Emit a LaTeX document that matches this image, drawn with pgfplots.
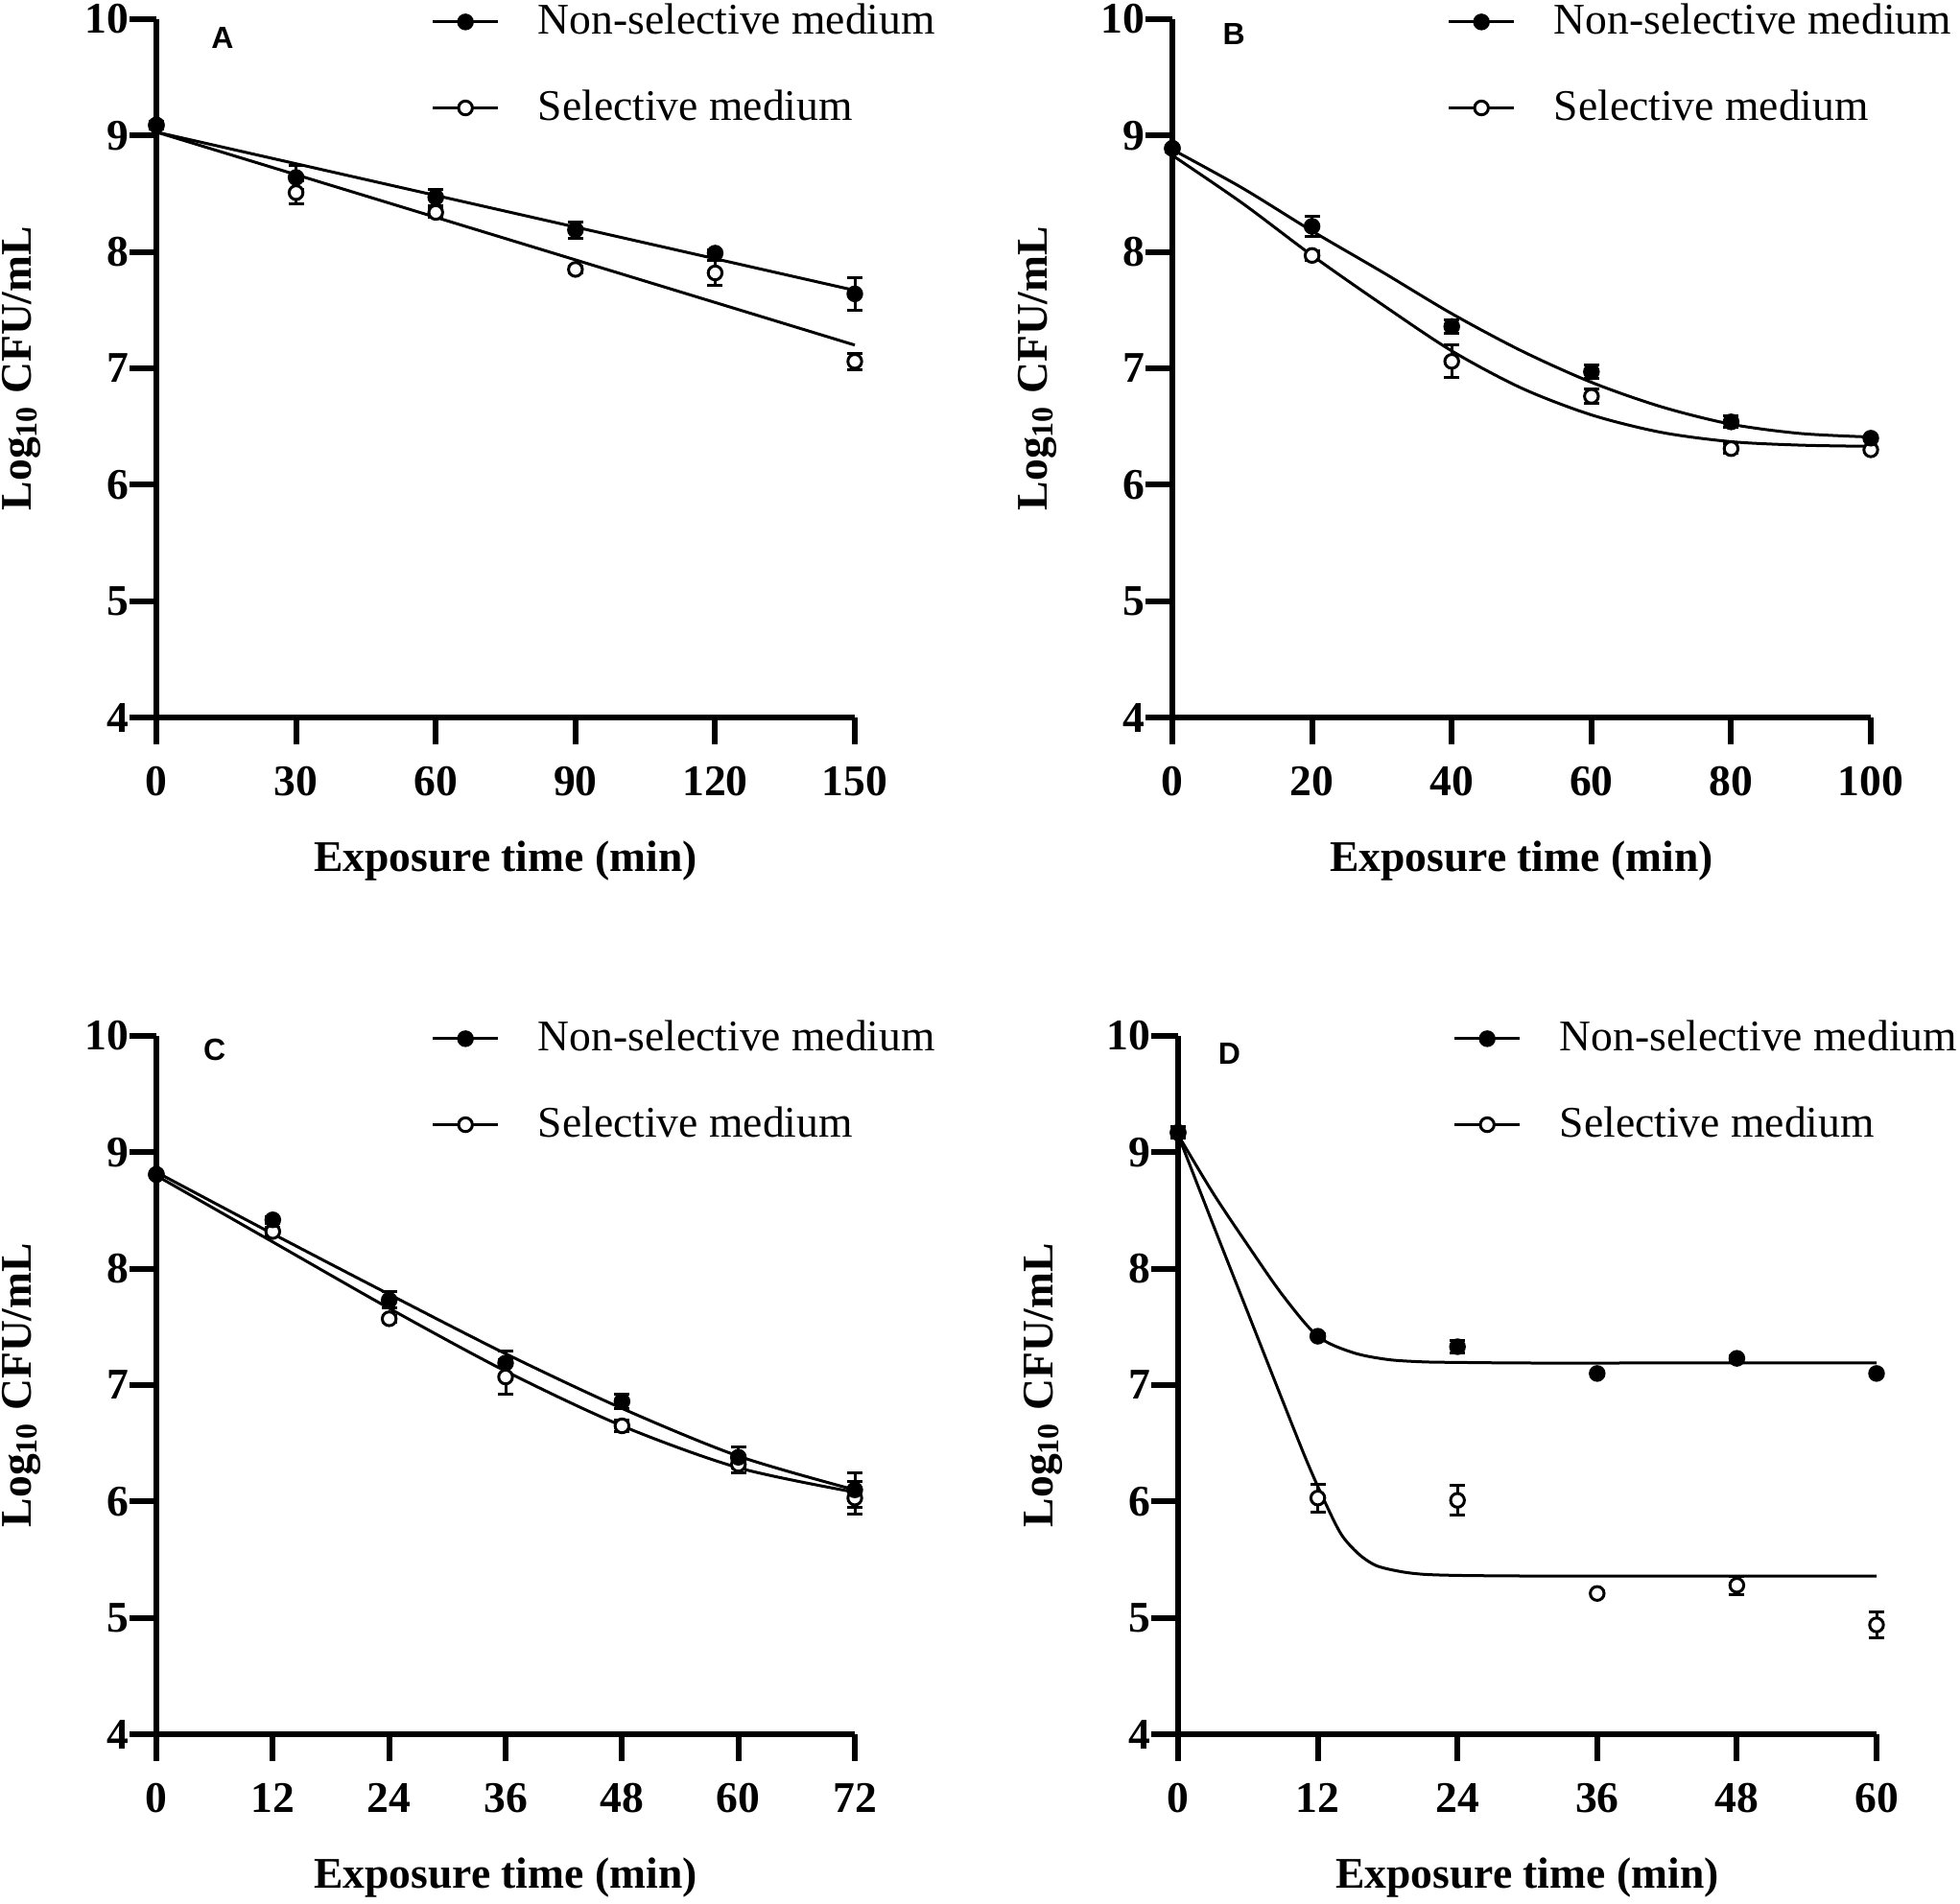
\documentclass[border=0pt]{standalone}
\usepackage{pgfplots}
\pgfplotsset{compat=1.18}
\usepackage{fontspec}
\setmainfont{Liberation Serif}
\setsansfont{Liberation Sans}

\newcommand{\txt}{\fontsize{11.4}{13}\selectfont}

\pgfplotsset{
  panel/.style={
    scale only axis, width=182pt, height=182pt, anchor=south west,
    axis lines=left, axis line style={line width=1.5pt, -},
    every tick/.style={black, line width=1.5pt},
    tick align=outside, major tick length=7pt,
    ymin=4, ymax=10, ytick={4,...,10},
    tick label style={font=\txt\bfseries, /pgf/number format/assume math mode=true, inner sep=0pt},
    xticklabel style={yshift=-5.5pt},
    label style={font=\txt\bfseries},
    xlabel={Exposure time (min)},
    ylabel={Log\textsubscript{10} CFU/mL},
    xlabel style={at={(axis description cs:0.5,-0.206)}, anchor=center},
    ylabel style={at={(axis description cs:-0.1937,0.5)}, anchor=center},
    clip=false,
    legend style={draw=none, fill=none, font=\txt, at={(axis description cs:0.376,1.045)},
      anchor=north west, row sep=9pt, legend cell align=left,
      /tikz/every odd column/.append style={column sep=8pt}},
  },
  fit/.style={black, line width=0.75pt, smooth, no marks, forget plot},
  pts/.style={black, only marks, mark=*, mark size=1.8pt, line width=0.75pt, forget plot,
    error bars/y dir=both, error bars/y explicit,
    error bars/error bar style={line width=0.75pt, black},
    error bars/error mark options={rotate=90, mark size=2pt, line width=0.75pt, black}},
  open/.style={mark options={fill=white, draw=black}},
}

\newcommand{\legendpair}{%
  \addlegendimage{black, line width=0.75pt, mark=*, mark size=1.8pt}
  \addlegendentry{Non-selective medium}
  \addlegendimage{black, line width=0.75pt, mark=*, mark size=1.8pt, mark options={fill=white}}
  \addlegendentry{Selective medium}}

\begin{document}
\begin{tikzpicture}
\path[use as bounding box] (0,0) rectangle (510.75pt,-496pt);

% ---------- A ----------
\begin{axis}[panel, at={(40.75pt,-187pt)}, xmin=0, xmax=150, xtick={0,30,...,150}]
  \legendpair
  \addplot[fit] coordinates {(0,9.03) (150,7.67)};
  \addplot[fit] coordinates {(0,9.03) (150,7.20)};
  \addplot[pts, open] table[x=x, y=y, y error=e] {
    x y e
    0 9.09 0.03
    30 8.51 0.10
    60 8.34 0.04
    90 7.85 0.03
    120 7.82 0.11
    150 7.06 0.07
  };
  \addplot[pts] table[x=x, y=y, y error=e] {
    x y e
    0 9.09 0.03
    30 8.64 0.10
    60 8.47 0.07
    90 8.19 0.07
    120 7.99 0.03
    150 7.64 0.14
  };
  \node[font=\sffamily\bfseries\fontsize{8}{9}\selectfont] at (axis cs:14.2,9.84) {A};
\end{axis}

% ---------- B ----------
\begin{axis}[panel, at={(305.5pt,-187pt)}, xmin=0, xmax=100, xtick={0,20,...,100}]
  \legendpair
  \addplot[fit] coordinates {(0,8.88) (10,8.55) (20,8.18) (30,7.83) (40,7.47) (50,7.15)
    (60,6.88) (70,6.67) (80,6.52) (90,6.44) (100,6.41)};
  \addplot[fit] coordinates {(0,8.83) (10,8.42) (20,7.97) (30,7.55) (40,7.15) (50,6.83)
    (60,6.60) (70,6.45) (80,6.37) (90,6.34) (100,6.33)};
  \addplot[pts, open] table[x=x, y=y, y error=e] {
    x y e
    0 8.89 0.03
    20 7.97 0.04
    40 7.06 0.14
    60 6.76 0.06
    80 6.31 0.04
    100 6.30 0.02
  };
  \addplot[pts] table[x=x, y=y, y error=e] {
    x y e
    0 8.89 0.03
    20 8.22 0.09
    40 7.36 0.06
    60 6.97 0.06
    80 6.54 0.05
    100 6.40 0.02
  };
  \node[font=\sffamily\bfseries\fontsize{8}{9}\selectfont] at (axis cs:8.8,9.87) {B};
\end{axis}

% ---------- C ----------
\begin{axis}[panel, at={(40.75pt,-452pt)}, xmin=0, xmax=72, xtick={0,12,...,72}]
  \legendpair
  \addplot[fit] coordinates {(0,8.83) (12,8.30) (24,7.78) (36,7.27) (48,6.80) (60,6.39) (72,6.10)};
  \addplot[fit] coordinates {(0,8.80) (12,8.23) (24,7.66) (36,7.12) (48,6.65) (60,6.29) (72,6.08)};
  \addplot[pts, open] table[x=x, y=y, y error=e] {
    x y e
    0 8.81 0.02
    12 8.32 0.04
    24 7.57 0.03
    36 7.07 0.15
    48 6.65 0.05
    60 6.32 0.07
    72 6.03 0.14
  };
  \addplot[pts] table[x=x, y=y, y error=e] {
    x y e
    0 8.81 0.02
    12 8.42 0.03
    24 7.73 0.07
    36 7.19 0.10
    48 6.86 0.06
    60 6.38 0.09
    72 6.10 0.15
  };
  \node[font=\sffamily\bfseries\fontsize{8}{9}\selectfont] at (axis cs:6.0,9.88) {C};
\end{axis}

% ---------- D ----------
\begin{axis}[panel, at={(307pt,-452pt)}, xmin=0, xmax=60, xtick={0,12,...,60}]
  \legendpair
  \addplot[fit] coordinates {(0,9.15) (3,8.65) (6,8.20) (9,7.77) (12,7.42) (15,7.28)
    (18,7.22) (21,7.20) (24,7.195) (30,7.19) (40,7.19) (50,7.19) (60,7.19)};
  \addplot[fit, tension=0.5] coordinates {(0,9.15) (3,8.38) (6,7.62) (9,6.86) (11,6.36)
    (12.5,6.02) (14,5.72) (15.5,5.55) (17,5.45) (19,5.40) (21,5.375) (24,5.365)
    (30,5.36) (40,5.36) (50,5.36) (60,5.36)};
  \addplot[pts, open] table[x=x, y=y, y error=e] {
    x y e
    0 9.17 0.05
    12 6.03 0.12
    24 6.01 0.13
    36 5.21 0.02
    48 5.28 0.08
    60 4.94 0.11
  };
  \addplot[pts] table[x=x, y=y, y error=e] {
    x y e
    0 9.17 0.05
    12 7.42 0.02
    24 7.33 0.05
    36 7.10 0.02
    48 7.23 0.02
    60 7.10 0.02
  };
  \node[font=\sffamily\bfseries\fontsize{8}{9}\selectfont] at (axis cs:4.4,9.85) {D};
\end{axis}
\end{tikzpicture}
\end{document}
